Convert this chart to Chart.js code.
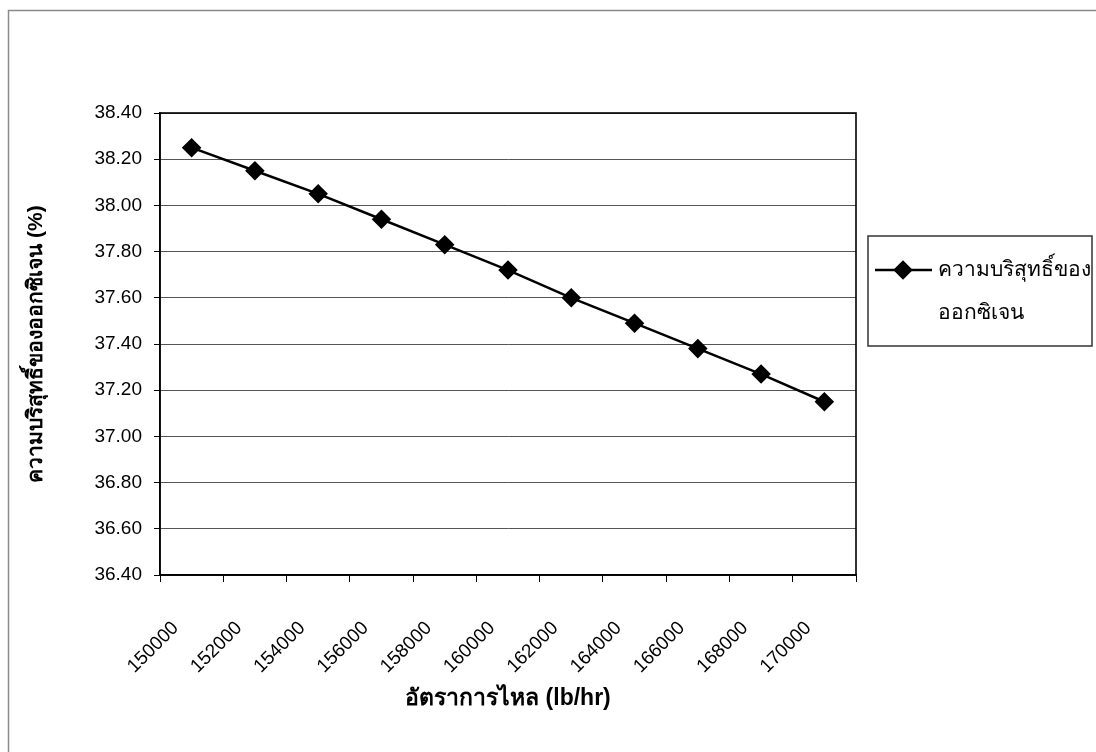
<!DOCTYPE html>
<html>
<head>
<meta charset="utf-8">
<script src="https://cdn.jsdelivr.net/npm/chart.js@4/dist/chart.umd.min.js"></script>
<style>
  html, body { margin: 0; padding: 0; background: #fff; }
  #wrap { width: 1096px; height: 752px; position: relative; }
</style>
</head>
<body>
<div id="wrap"><canvas id="purityChart"></canvas></div>
<script>
// flow rate categories (lb/hr) and measured oxygen purity (%)
const flowRates = ['150000', '152000', '154000', '156000', '158000', '160000',
                   '162000', '164000', '166000', '168000', '170000'];
const oxygenPurity = [38.25, 38.15, 38.05, 37.94, 37.83, 37.72,
                      37.60, 37.49, 37.38, 37.27, 37.15];
const purityTicks = [36.40, 36.60, 36.80, 37.00, 37.20, 37.40,
                     37.60, 37.80, 38.00, 38.20, 38.40];
const seriesLines = ['ความบริสุทธิ์ของ', 'ออกซิเจน'];
const xTitle = 'อัตราการไหล (lb/hr)';
const yTitle = 'ความบริสุทธิ์ของออกซิเจน (%)';

const baseFont = '"Liberation Sans", Arial, sans-serif';

// gray outer frame + black box round the plot area
const framePlugin = {
    id: 'frame',
    beforeDatasetsDraw(chart) {
        let ctx = chart.ctx;
        let a = chart.chartArea;
        ctx.save();
        ctx.strokeStyle = '#8a8a8a';
        ctx.lineWidth = 1.5;
        ctx.strokeRect(8.5, 10.5, 1300, 1000);
        ctx.strokeStyle = '#000';
        ctx.lineWidth = 1.6;
        ctx.strokeRect(a.left, a.top, a.right - a.left, a.bottom - a.top);
        ctx.restore();
    }
};

// boxed legend on the right, text wrapped on two lines
const boxLegend = {
    id: 'boxLegend',
    afterDraw(chart) {
        let ctx = chart.ctx;
        let ds = chart.data.datasets[0];
        ctx.save();
        ctx.strokeStyle = '#333';
        ctx.lineWidth = 1.5;
        ctx.strokeRect(868, 236, 224, 110);

        ctx.strokeStyle = ds.borderColor;
        ctx.lineWidth = ds.borderWidth;
        ctx.beginPath();
        ctx.moveTo(875, 270);
        ctx.lineTo(932, 270);
        ctx.stroke();
        ctx.fillStyle = ds.pointBackgroundColor;
        Chart.helpers.drawPoint(ctx, {
            pointStyle: ds.pointStyle,
            radius: ds.pointRadius,
            borderWidth: 1
        }, 903, 270);

        ctx.fillStyle = '#000';
        ctx.font = '21px ' + baseFont;
        ctx.textBaseline = 'middle';
        ctx.textAlign = 'left';
        for (let i = 0; i < seriesLines.length; i++) {
            ctx.fillText(seriesLines[i], 938, 270 + i * 43);
        }
        ctx.restore();
    }
};

let data = {
    labels: flowRates,
    datasets: [{
        label: seriesLines.join(''),
        data: oxygenPurity,
        borderColor: '#000',
        backgroundColor: '#000',
        borderWidth: 2.5,
        pointStyle: 'rectRot',
        pointRadius: 8,
        pointBackgroundColor: '#000',
        pointBorderColor: '#000',
        tension: 0
    }]
};

let config = {
    type: 'line',
    data: data,
    options: {
        responsive: true,
        maintainAspectRatio: false,
        animation: false,
        layout: { padding: { left: 12, top: 113, right: 240, bottom: 0 } },
        plugins: {
            legend: { display: false },
            tooltip: { enabled: false }
        },
        scales: {
            x: {
                offset: true,
                grid: {
                    offset: true,
                    drawOnChartArea: false,
                    tickLength: 7,
                    color: '#000',
                    tickColor: '#000'
                },
                border: { display: true, color: '#000', width: 1.6 },
                ticks: {
                    autoSkip: false,
                    minRotation: 45,
                    maxRotation: 45,
                    padding: 35,
                    labelOffset: -16,
                    color: '#000',
                    font: { family: baseFont, size: 19 }
                },
                title: {
                    display: true,
                    text: xTitle,
                    color: '#000',
                    font: { family: baseFont, size: 23, weight: 'bold' },
                    padding: { top: 0, bottom: 40 }
                },
                afterFit: function(scale) { scale.height = 177; }
            },
            y: {
                min: 36.4,
                max: 38.4,
                afterBuildTicks: function(scale) {
                    scale.ticks = purityTicks.map(v => ({ value: v }));
                },
                grid: {
                    color: '#555',
                    tickColor: '#000',
                    tickLength: 6,
                    lineWidth: 1
                },
                border: { display: true, color: '#000', width: 1.6 },
                ticks: {
                    padding: 12,
                    color: '#000',
                    font: { family: baseFont, size: 19 },
                    callback: v => Number(v).toFixed(2)
                },
                title: {
                    display: true,
                    text: yTitle,
                    color: '#000',
                    font: { family: baseFont, size: 21, weight: 'bold' },
                    padding: { top: 12, bottom: 0 }
                },
                afterFit: function(scale) { scale.width = 148; }
            }
        }
    },
    plugins: [framePlugin, boxLegend]
};

let purityChart = new Chart(document.getElementById('purityChart'), config);
</script>
</body>
</html>
